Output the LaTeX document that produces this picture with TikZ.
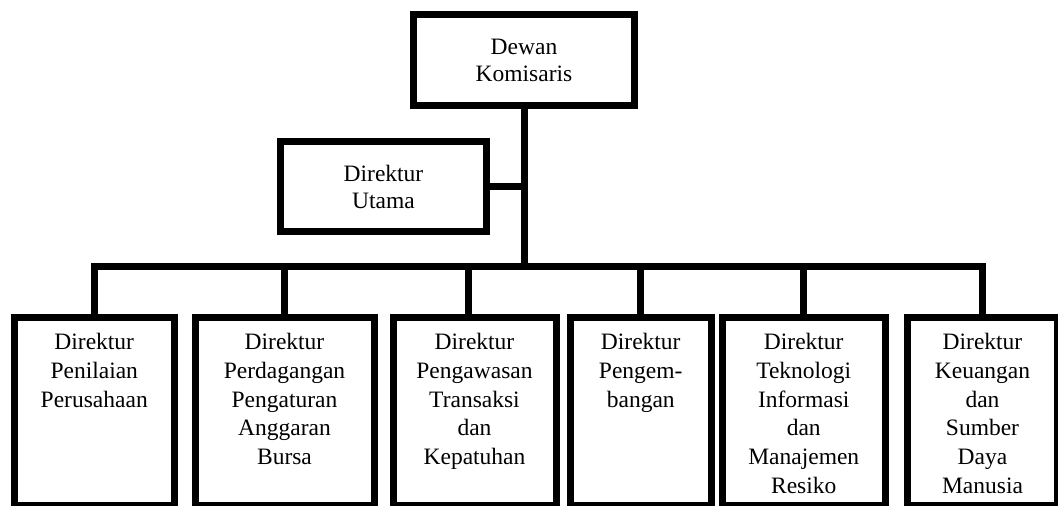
\documentclass[tikz,border=0pt]{standalone}
\usepackage{fontspec}
\setmainfont{Liberation Serif}
\usetikzlibrary{positioning}

\begin{document}
\begin{tikzpicture}[x=1pt, y=-1pt,
  orgbox/.style={draw, line width=7pt, inner sep=0pt, align=center,
    font=\fontsize{23.5}{27}\selectfont},
  dirbox/.style={draw, line width=7pt, inner sep=0pt, anchor=north west,
    minimum height=188pt},
  dirtext/.style={inner sep=0pt, align=center,
    font=\fontsize{23.5}{28.8}\selectfont},
  link/.style={line width=7pt}]

\useasboundingbox (0,0) rectangle (1058,506);

% top boxes
\node[orgbox, minimum width=221pt, minimum height=91pt] (dewan) at (524,60) {Dewan\\Komisaris};
\node[orgbox, minimum width=206pt, minimum height=90pt] (utama) at (383.5,186.5) {Direktur\\Utama};

% director boxes
\node[dirbox, minimum width=159.5pt] (d1) at (11,314) {};
\node[dirbox, minimum width=179pt] (d2) at (191.5,314) {};
\node[dirbox, minimum width=163pt] (d3) at (389.5,314) {};
\node[dirbox, minimum width=140.5pt] (d4) at (567,314) {};
\node[dirbox, minimum width=162.5pt] (d5) at (719,314) {};
\node[dirbox, minimum width=150pt] (d6) at (904,314) {};

% director titles
\node[dirtext, below=19pt of d1.north] (t1) {Direktur\\Penilaian\\Perusahaan};
\node[dirtext, below=19pt of d2.north] (t2) {Direktur\\Perdagangan\\Pengaturan\\Anggaran\\Bursa};
\node[dirtext, below=19pt of d3.north] (t3) {Direktur\\Pengawasan\\Transaksi\\dan\\Kepatuhan};
\node[dirtext, below=19pt of d4.north] (t4) {Direktur\\Pengem-\\bangan};
\node[dirtext, below=19pt of d5.north] (t5) {Direktur\\Teknologi\\Informasi\\dan\\Manajemen\\Resiko};
\node[dirtext, below=19pt of d6.north] (t6) {Direktur\\Keuangan\\dan\\Sumber\\Daya\\Manusia};

% lines
\coordinate (bar) at (524,266);
\draw[link] (dewan.south) -- (bar);
\draw[link] (utama.east) -- (utama.east -| dewan.south);
\draw[link] (d1.north) -- (d1.north |- bar) -- (d6.north |- bar) -- (d6.north);
\draw[link] ([xshift=-6pt]d3.north) -- ([xshift=-6pt]d3.north |- bar);
\foreach \i in {2,4,5}
  \draw[link] (d\i.north) -- (d\i.north |- bar);

\end{tikzpicture}
\end{document}
